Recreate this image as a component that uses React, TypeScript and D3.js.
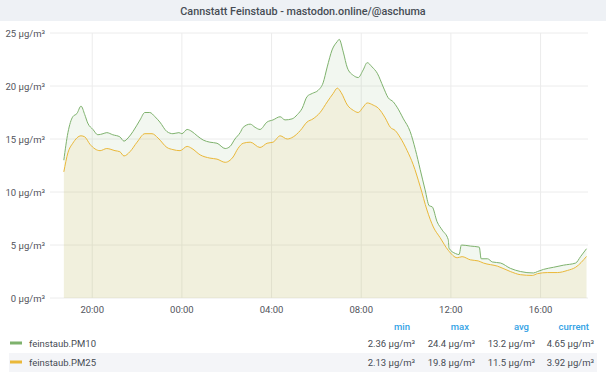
import React from "react";
import * as d3 from "d3";

const TITLE = "Cannstatt Feinstaub - mastodon.online/@aschuma";
const yTicks = [0, 5, 10, 15, 20, 25];
const unit = " μg/m³";

const pm10Times = ["18:44","18:55","19:08","19:19","19:30","19:40","19:48","20:02","20:15","20:29","20:39","20:55","21:14","21:25","21:36","21:49","22:08","22:21","22:34","22:48","23:01","23:20","23:36","23:52","00:00","00:14","00:27","00:41","00:57","01:15","01:34","01:56","02:09","02:22","02:36","02:44","03:03","03:16","03:29","03:48","04:04","04:23","04:36","04:55","05:09","05:22","05:35","05:49","06:05","06:18","06:29","06:42","06:56","07:01","07:12","07:23","07:39","07:52","08:05","08:16","08:29","08:43","08:59","09:12","09:26","09:36","09:53","10:11","10:25","10:38","10:51","11:02","11:10","11:23","11:37","11:53","11:55","12:12","12:22","12:28","12:52","13:16","13:21","13:38","13:51","14:13","14:39","15:06","15:41","15:52","16:08","16:35","17:02","17:34","17:47","18:03"];
const pm10Values = [13.0,15.6,17.1,17.4,18.1,17.3,16.5,15.9,15.4,15.5,15.6,15.4,15.2,14.8,15.1,15.7,16.8,17.5,17.5,17.1,16.6,15.7,15.5,15.6,15.5,15.9,15.7,15.3,14.9,14.7,14.6,14.1,14.3,15.0,15.6,16.1,16.4,16.1,15.9,16.6,16.8,17.1,16.8,16.9,17.3,17.9,19.0,19.3,19.6,20.3,21.8,23.4,24.2,24.4,23.2,21.7,21.0,20.8,21.5,22.2,21.8,21.2,19.9,18.9,18.5,18.0,16.9,15.7,14.0,12.1,10.2,8.7,8.6,7.2,6.4,5.5,4.7,4.2,4.1,5.0,4.9,4.8,3.7,3.7,3.4,3.3,2.8,2.5,2.36,2.5,2.7,2.9,3.1,3.3,3.9,4.65];

const pm25Times = ["18:44","18:55","19:08","19:30","19:40","19:54","20:21","20:39","21:01","21:14","21:25","21:41","22:00","22:21","22:40","22:56","23:20","23:36","23:55","00:14","00:27","00:49","01:15","01:34","01:56","02:09","02:17","02:30","02:44","03:03","03:29","03:48","04:04","04:23","04:42","04:58","05:17","05:35","05:51","06:10","06:29","06:45","06:56","07:06","07:23","07:39","07:52","08:05","08:16","08:32","08:46","09:04","09:18","09:31","09:45","10:03","10:19","10:38","10:56","11:13","11:31","11:53","12:17","12:30","12:52","13:13","13:27","14:05","14:39","15:06","15:38","15:52","16:19","16:45","17:12","17:34","18:03"];
const pm25Values = [11.9,13.7,14.6,15.3,15.2,14.5,13.9,14.1,13.9,13.8,13.4,13.8,14.7,15.5,15.5,15.1,14.2,14.0,13.9,14.3,14.1,13.5,13.2,13.1,12.8,13.0,13.3,14.1,14.6,14.7,14.2,14.6,14.7,15.3,15.0,15.2,15.8,16.6,16.9,17.5,18.5,19.3,19.8,19.4,18.2,17.7,17.5,18.0,18.4,18.2,17.9,17.0,16.1,15.8,15.1,13.9,12.6,10.5,8.3,6.7,5.7,4.5,3.8,3.9,3.6,3.5,3.3,3.0,2.5,2.2,2.13,2.3,2.4,2.4,2.6,2.9,3.92];

const seriesNames = ["feinstaub.PM10", "feinstaub.PM25"];
const seriesColors = ["#7eb26d", "#eab839"];
const legendHeaders = ["min", "max", "avg", "current"];
const pm10Stats = ["2.36 μg/m³", "24.4 μg/m³", "13.2 μg/m³", "4.65 μg/m³"];
const pm25Stats = ["2.13 μg/m³", "19.8 μg/m³", "11.5 μg/m³", "3.92 μg/m³"];

function parseSeq(times: string[]): Date[] {
  let day = 1;
  let prev = -1;
  return times.map((t) => {
    const [h, m] = t.split(":").map(Number);
    const mins = h * 60 + m;
    if (prev >= 0 && mins < prev) day += 1;
    prev = mins;
    return new Date(2019, 0, day, h, m);
  });
}

export default function App() {
  const W = 606, H = 379;
  const left = 50, right = 588, top = 33, bottom = 298;
  const x = d3.scaleTime()
    .domain([new Date(2019, 0, 1, 18, 7), new Date(2019, 0, 2, 18, 7)])
    .range([left, right]);
  const y = d3.scaleLinear().domain([0, 25]).range([bottom, top]);
  const xTicks = x.ticks(d3.timeHour.every(4)!);
  const fmt = d3.timeFormat("%H:%M");

  const series = [
    { t: parseSeq(pm10Times), v: pm10Values },
    { t: parseSeq(pm25Times), v: pm25Values },
  ].map((s) => s.t.map((d, i) => ({ d, v: s.v[i] })));

  const line = d3.line<{ d: Date; v: number }>()
    .x((p) => x(p.d)).y((p) => y(p.v)).curve(d3.curveMonotoneX);
  const area = d3.area<{ d: Date; v: number }>()
    .x((p) => x(p.d)).y0(y(0)).y1((p) => y(p.v)).curve(d3.curveMonotoneX);

  const font = "Roboto, 'Open Sans', sans-serif";
  const fs = 9.5;
  const statRight = [415, 475, 535, 594];
  const headRight = [410, 469, 529, 589];
  const stats = [pm10Stats, pm25Stats];
  const rowY = [343, 362];

  return (
    <svg width={W} height={H} style={{ position: "absolute", left: 0, top: 0, background: "#fff" }} fontFamily={font}>
      <rect x={0} y={0} width={W} height={21} fill="#eef1f5" />
      <text x={W / 2} y={11} textAnchor="middle" dominantBaseline="central" fontSize={10.8} fontWeight={500} fill="#464c54">{TITLE}</text>

      {yTicks.map((t) => (
        <g key={"y" + t}>
          <line x1={left} x2={right} y1={y(t)} y2={y(t)} stroke="#ececec" strokeWidth={1} />
          <text x={45} y={y(t)} textAnchor="end" dominantBaseline="central" fontSize={fs} fill="#52545c">{t + unit}</text>
        </g>
      ))}
      {xTicks.map((t, i) => (
        <g key={"x" + i}>
          <line x1={x(t)} x2={x(t)} y1={top} y2={bottom} stroke="#ececec" strokeWidth={1} />
          <text x={x(t)} y={309} textAnchor="middle" dominantBaseline="central" fontSize={fs} fill="#52545c">{fmt(t)}</text>
        </g>
      ))}

      {series.map((s, i) => (
        <path key={"a" + i} d={area(s) || ""} fill={seriesColors[i]} fillOpacity={0.1} stroke="none" />
      ))}
      {series.map((s, i) => (
        <path key={"l" + i} d={line(s) || ""} fill="none" stroke={seriesColors[i]} strokeWidth={1} />
      ))}

      {legendHeaders.map((h, i) => (
        <text key={"h" + i} x={headRight[i]} y={326} textAnchor="end" dominantBaseline="central" fontSize={fs} fontWeight={500} fill="#33a2e5">{h}</text>
      ))}
      <rect x={9} y={353} width={588} height={19} fill="#f4f5f8" />
      {seriesNames.map((n, i) => (
        <g key={"lg" + i}>
          <rect x={10} y={rowY[i] - 1.5} width={12} height={3} fill={seriesColors[i]} />
          <text x={29} y={rowY[i]} dominantBaseline="central" fontSize={fs} fill="#464c54">{n}</text>
          {stats[i].map((s, j) => (
            <text key={j} x={statRight[j]} y={rowY[i]} textAnchor="end" dominantBaseline="central" fontSize={fs} fill="#464c54">{s}</text>
          ))}
        </g>
      ))}
    </svg>
  );
}
